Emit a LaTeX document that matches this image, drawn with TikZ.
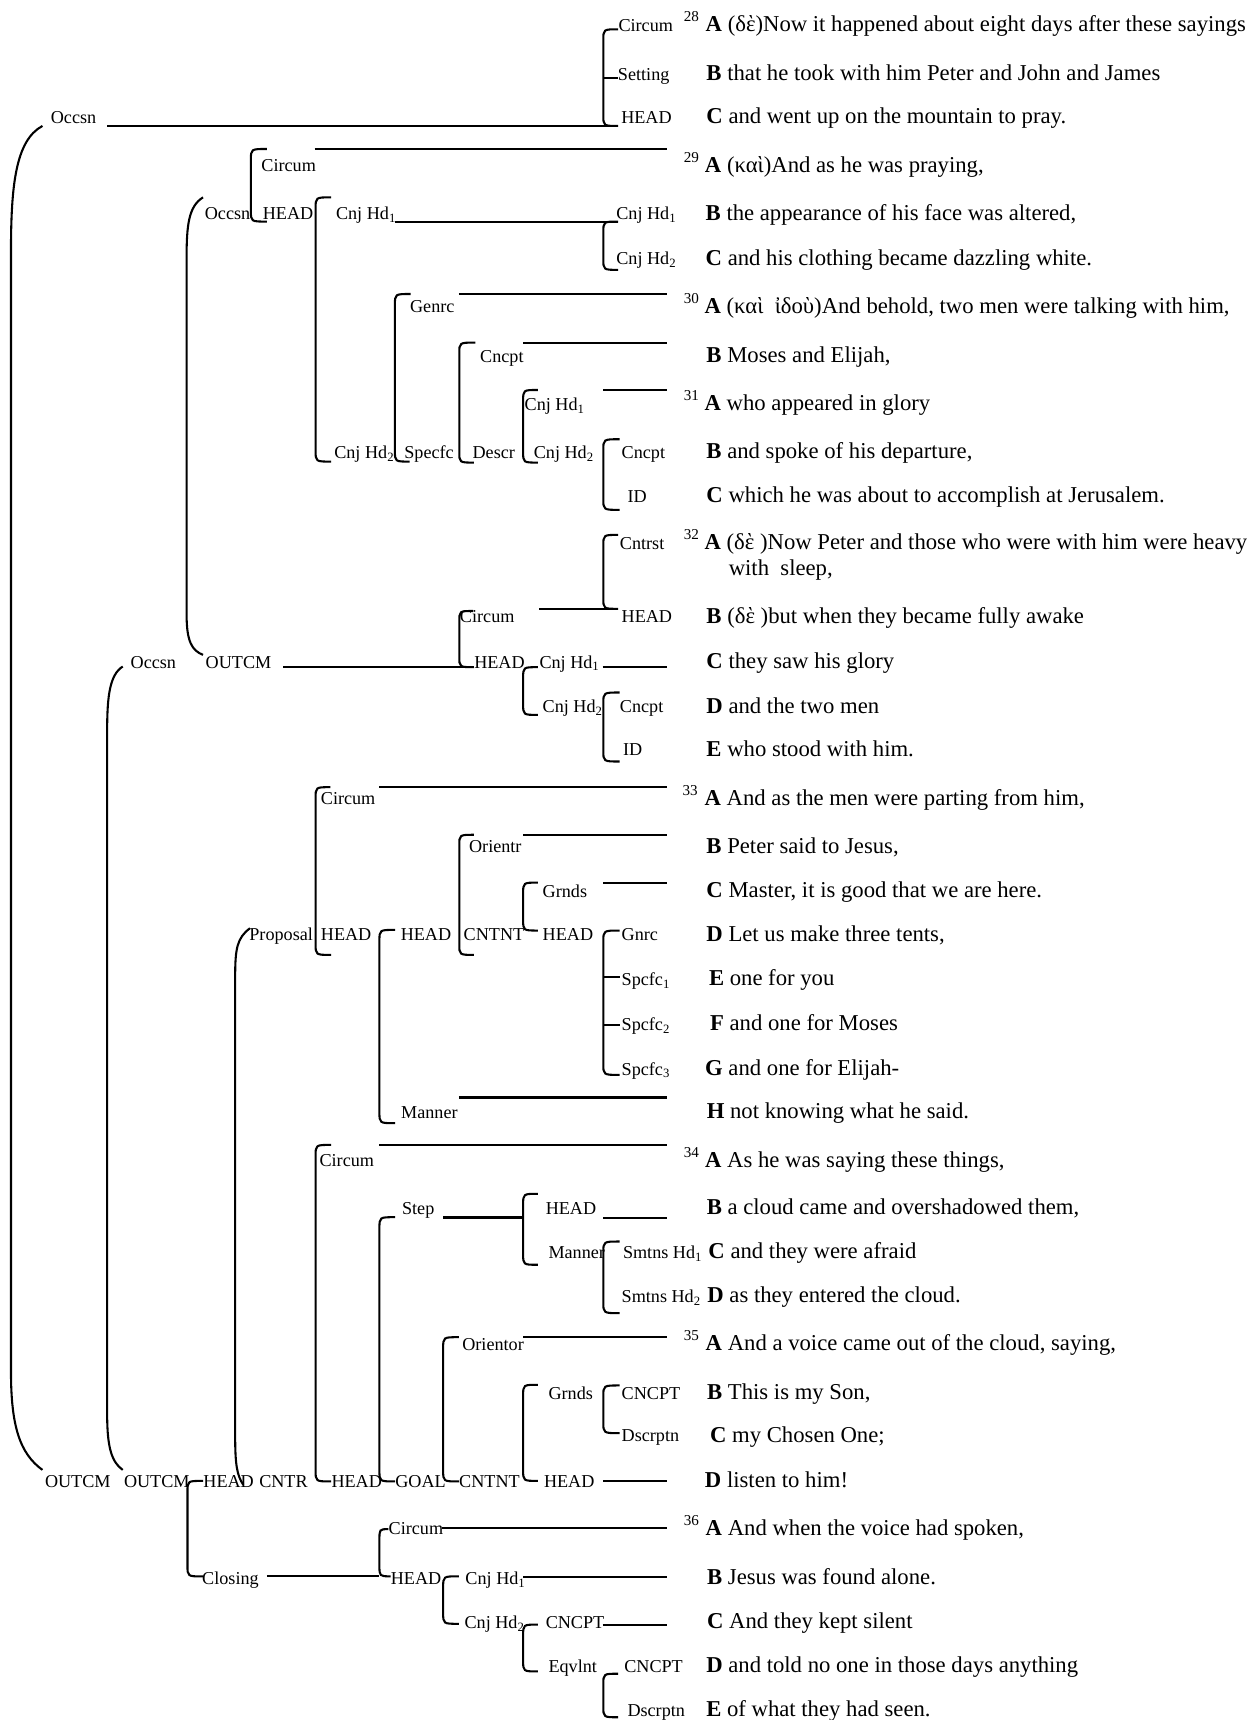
\documentclass[tikz,border=0pt]{standalone}
\usepackage{fontspec}
\setmainfont{Liberation Serif}
\usetikzlibrary{calc}
\newcommand\lblfont{\fontsize{9.6}{11}\selectfont}
\newcommand\txtfont{\fontsize{12}{14}\selectfont}
\newcommand\supfont{\fontsize{8}{9}\selectfont}
\newcommand\sbs[1]{\textsubscript{#1}}
% bracket: #1 spine column coordinate, #2 top end, #3 bottom end
\newcommand\brk[3]{\draw[ln] (#2) .. controls (#2 -| #1) .. ($(#2 -| #1)+(0,10)$) -- ($(#3 -| #1)+(0,-10)$) .. controls (#3 -| #1) .. (#3);}
\begin{document}
\begin{tikzpicture}[x=0.58pt,y=-0.58pt,
  ln/.style={line width=1.1pt},
  lbl/.style={anchor=base west,inner sep=0pt,font=\lblfont},
  txt/.style={anchor=base west,inner sep=0pt,font=\txtfont},
  sup/.style={anchor=base west,inner sep=0pt,font=\supfont}]
\useasboundingbox (0,0) rectangle (1143,1568);
% spine columns
\foreach \n/\v in {171/170.9,229/228.7,288/287.7,346/345.9,360/360,404/404,419/418.7,477/476.9,550/550}{\coordinate (X\n) at (\v,0);}

% ---------------- big brackets
\coordinate (b0t) at (38.7,114.8); \coordinate (b0b) at (38.7,1340);
\draw[ln] (b0t) .. controls (14,128) and (10,170) .. (10,230) -- (10,1250) .. controls (10,1300) and (18,1325) .. (b0b);
\coordinate (b1t) at (111.9,607.6); \coordinate (b1b) at (111.9,1340);
\draw[ln] (b1t) .. controls (100,615) and (97.7,635) .. (97.7,665) -- (97.7,1290) .. controls (97.7,1320) and (102,1333) .. (b1b);
\coordinate (b2t) at (185.1,179.9); \coordinate (b2b) at (185.1,597);
\draw[ln] (b2t) .. controls (172,188) and (170.1,205) .. (170.1,235) -- (170.1,560) .. controls (170.1,585) and (175,593) .. (b2b);
\coordinate (b3t) at (227.9,846.2); \coordinate (b3b) at (221.8,1353.6);
\draw[ln] (b3t) .. controls (216,855) and (214.4,865) .. (214.4,890) -- (214.4,1310) .. controls (214.4,1335) and (216,1345) .. (b3b);

% ---------------- verse 28
\node[lbl] (occ1) at (46,113) {Occsn};
\node[lbl] (l28a) at (563.5,29) {Circum};
\node[lbl] (l28b) at (563,73) {Setting};
\node[lbl] (l28c) at (566,113) {HEAD};
\coordinate (t28) at (563.5,26.7); \coordinate (m28) at (563,71.4); \coordinate (b28) at (563.5,114.8);
\coordinate (o1s) at (97.7,114.8);
\brk{X550}{t28}{b28}
\draw[ln] (m28 -| X550) -- (m28);
\draw[ln] (o1s) -- (b28);

% ---------------- verse 29
\node[lbl] (l29a) at (238,156.5) {Circum};
\node[lbl] (occ2) at (186.4,200.5) {Occsn};
\node[lbl] (l29h) at (239.3,200.5) {HEAD};
\node[lbl] (l29j1) at (306,200.5) {Cnj Hd\sbs{1}};
\node[lbl] (l29r1) at (561.5,200.5) {Cnj Hd\sbs{1}};
\node[lbl] (l29r2) at (561.5,241.5) {Cnj Hd\sbs{2}};
\coordinate (t29) at (243.3,135.8); \coordinate (b29) at (243.3,202);
\brk{X229}{t29}{b29}
\coordinate (a29s) at (286.9,135.8); \coordinate (a29e) at (608.3,135.8);
\draw[ln] (a29s) -- (a29e);
\coordinate (tC1) at (301.9,179.9); \coordinate (bC1) at (301.9,420.8);
\brk{X288}{tC1}{bC1}
\coordinate (j29s) at (360,202); \coordinate (tC2) at (563.5,202); \coordinate (bC2) at (563.5,246);
\draw[ln] (j29s) -- (tC2);
\brk{X550}{tC2}{bC2}

% ---------------- verse 30-31
\node[lbl] (l30g) at (373.5,284.7) {Genrc};
\node[lbl] (l30c) at (437.4,330.5) {Cncpt};
\node[lbl] (l31j1) at (478,374.3) {Cnj Hd\sbs{1}};
\node[lbl] (l29j2) at (304.4,417.7) {Cnj Hd\sbs{2}};
\node[lbl] (l30s) at (368.3,417.7) {Specfc};
\node[lbl] (l30d) at (430.5,417.7) {Descr};
\node[lbl] (l31j2) at (486.3,417.7) {Cnj Hd\sbs{2}};
\node[lbl] (l31c) at (566.4,417.7) {Cncpt};
\node[lbl] (l31i) at (571.7,458) {ID};
\coordinate (tG) at (374.3,268); \coordinate (bG) at (373.5,420.8);
\brk{X360}{tG}{bG}
\coordinate (a30s) at (418.3,268); \coordinate (a30e) at (608.3,268);
\draw[ln] (a30s) -- (a30e);
\coordinate (tCn) at (433.3,312.3); \coordinate (bCn) at (432,421.7);
\brk{X419}{tCn}{bCn}
\coordinate (b30s) at (476.9,312.3); \coordinate (b30e) at (608.3,312.3);
\draw[ln] (b30s) -- (b30e);
\coordinate (tIC) at (490.3,355.5); \coordinate (bIC) at (490.3,421.7);
\brk{X477}{tIC}{bIC}
\coordinate (a31s) at (550,355.5); \coordinate (a31e) at (608.3,355.5);
\draw[ln] (a31s) -- (a31e);
\coordinate (tCI) at (564.8,400.4); \coordinate (bCI) at (564.8,464.8);
\brk{X550}{tCI}{bCI}

% ---------------- verse 32
\node[lbl] (l32ct) at (564.8,501) {Cntrst};
\node[lbl] (l32ci) at (419,567.5) {Circum};
\node[lbl] (l32h) at (566.4,567.5) {HEAD};
\node[lbl] (occ3) at (118.8,609) {Occsn};
\node[lbl] (out3) at (187.2,609) {OUTCM};
\node[lbl] (l32hd) at (432,609) {HEAD};
\node[lbl] (l32j1) at (491.5,609) {Cnj Hd\sbs{1}};
\node[lbl] (l32j2) at (494.4,649.5) {Cnj Hd\sbs{2}};
\node[lbl] (l32c) at (564.8,649.5) {Cncpt};
\node[lbl] (l32i) at (567.6,689) {ID};
\coordinate (tCt) at (563.5,487.6); \coordinate (bCt) at (563.5,555);
\brk{X550}{tCt}{bCt}
\coordinate (c32s) at (491.5,555);
\draw[ln] (c32s) -- (bCt);
\coordinate (tCH) at (431.3,557); \coordinate (bCH) at (432,608.2);
\brk{X419}{tCH}{bCH}
\coordinate (o3s) at (258.4,608.2);
\draw[ln] (o3s) -- (bCH);
\coordinate (tJ) at (490.3,608.2); \coordinate (bJ) at (490.3,651.7);
\brk{X477}{tJ}{bJ}
\coordinate (c32a) at (549.3,608.2); \coordinate (c32b) at (608.3,608.2);
\draw[ln] (c32a) -- (c32b);
\coordinate (tK) at (564.8,631.3); \coordinate (bK) at (564.8,694.2);
\brk{X550}{tK}{bK}

% ---------------- verse 33
\node[lbl] (l33ci) at (292.2,733.7) {Circum};
\node[lbl] (l33o) at (427.3,777) {Orientr};
\node[lbl] (l33g) at (494.4,818) {Grnds};
\node[lbl] (l33p) at (227,857.5) {Proposal};
\node[lbl] (l33h1) at (292.2,857.5) {HEAD};
\node[lbl] (l33h2) at (365,857.5) {HEAD};
\node[lbl] (l33cn) at (422.4,857.5) {CNTNT};
\node[lbl] (l33h3) at (494.4,857.5) {HEAD};
\node[lbl] (l33gn) at (566.4,857.5) {Gnrc};
\node[lbl] (l33s1) at (566.4,898.5) {Spcfc\sbs{1}};
\node[lbl] (l33s2) at (566.4,939.5) {Spcfc\sbs{2}};
\node[lbl] (l33s3) at (566.4,980) {Spcfc\sbs{3}};
\node[lbl] (l33m) at (365.4,1019.4) {Manner};
\coordinate (t33) at (301.1,717.6); \coordinate (b33) at (301.9,870.5);
\brk{X288}{t33}{b33}
\coordinate (a33s) at (345.9,717.6); \coordinate (a33e) at (608.3,717.6);
\draw[ln] (a33s) -- (a33e);
\coordinate (tO) at (432.1,761); \coordinate (bO) at (432.1,870.5);
\brk{X419}{tO}{bO}
\coordinate (b33s) at (476.9,761); \coordinate (b33e) at (608.3,761);
\draw[ln] (b33s) -- (b33e);
\coordinate (tGr) at (490.3,804.6); \coordinate (bGr) at (490.3,848.3);
\brk{X477}{tGr}{bGr}
\coordinate (c33s) at (550,804.6); \coordinate (c33e) at (608.3,804.6);
\draw[ln] (c33s) -- (c33e);
\coordinate (tHM) at (360.1,847.7); \coordinate (bHM) at (360.1,1023.9);
\brk{X346}{tHM}{bHM}
\coordinate (h33s) at (418.3,1000.5); \coordinate (h33e) at (608.3,1000.5);
\draw[ln] (h33s) -- (h33e);
\coordinate (tGn) at (564.8,848.3); \coordinate (bGn) at (564.8,979.9);
\brk{X550}{tGn}{bGn}
\coordinate (k1) at (564.8,890.3); \coordinate (k2) at (564.8,934.3);
\draw[ln] (k1 -| X550) -- (k1);
\draw[ln] (k2 -| X550) -- (k2);

% ---------------- verse 34
\node[lbl] (l34ci) at (291,1063.4) {Circum};
\node[lbl] (l34st) at (366.2,1107.5) {Step};
\node[lbl] (l34h) at (497.2,1107.5) {HEAD};
\node[lbl] (l34m) at (499.7,1147) {Manner};
\node[lbl] (l34s1) at (567.6,1147) {Smtns Hd\sbs{1}};
\node[lbl] (l34s2) at (566.4,1187.4) {Smtns Hd\sbs{2}};
\coordinate (t34) at (301.9,1043.7); \coordinate (b34) at (301.9,1350.5);
\brk{X288}{t34}{b34}
\coordinate (a34s) at (345.9,1043.7); \coordinate (a34e) at (608.3,1043.7);
\draw[ln] (a34s) -- (a34e);
\coordinate (tSt) at (360.1,1109.6); \coordinate (bSt) at (360.1,1350.5);
\brk{X346}{tSt}{bSt}
\coordinate (st1) at (404,1109.9);
\draw[ln] (st1) -- (st1 -| X477);
\coordinate (tH4) at (490.3,1088.3); \coordinate (bH4) at (490.3,1153);
\brk{X477}{tH4}{bH4}
\coordinate (b34s) at (550,1110.5); \coordinate (b34e) at (608.3,1110.5);
\draw[ln] (b34s) -- (b34e);
\coordinate (tSm) at (564.8,1131.8); \coordinate (bSm) at (564.8,1197.1);
\brk{X550}{tSm}{bSm}

% ---------------- verse 35
\node[lbl] (l35o) at (421.1,1231) {Orientor};
\node[lbl] (l35g) at (499.7,1276) {Grnds};
\node[lbl] (l35c) at (566.4,1276) {CNCPT};
\node[lbl] (l35d) at (566.4,1314) {Dscrptn};
\coordinate (tOr) at (418.3,1219); \coordinate (bOr) at (418.3,1350.5);
\brk{X404}{tOr}{bOr}
\coordinate (a35s) at (476.9,1219); \coordinate (a35e) at (608.3,1219);
\draw[ln] (a35s) -- (a35e);
\coordinate (tG5) at (490.3,1262.4); \coordinate (bG5) at (490.3,1350);
\brk{X477}{tG5}{bG5}
\coordinate (tC5) at (564.8,1263); \coordinate (bC5) at (564.8,1306.5);
\brk{X550}{tC5}{bC5}
\coordinate (d35s) at (550,1349.9); \coordinate (d35e) at (608.3,1349.9);
\draw[ln] (d35s) -- (d35e);

% bottom row
\node[lbl] (out1) at (40.7,1355.7) {OUTCM};
\node[lbl] (out2) at (112.7,1355.7) {OUTCM};
\node[lbl] (hd1) at (185.1,1355.7) {HEAD};
\node[lbl] (cntr) at (236,1355.7) {CNTR};
\node[lbl] (hd2) at (301.9,1355.7) {HEAD};
\node[lbl] (goal) at (360.1,1355.7) {GOAL};
\node[lbl] (cntnt) at (418.3,1355.7) {CNTNT};
\node[lbl] (hd3) at (495.6,1355.7) {HEAD};
\coordinate (tHC) at (185.1,1350); \coordinate (bHC) at (185.1,1437.1);
\brk{X171}{tHC}{bHC}

% ---------------- verse 36
\node[lbl] (l36ci) at (354,1399) {Circum};
\node[lbl] (l36cl) at (184,1444.7) {Closing};
\node[lbl] (l36h) at (356,1444.7) {HEAD};
\node[lbl] (l36j1) at (424,1444.7) {Cnj Hd\sbs{1}};
\node[lbl] (l36j2) at (423.2,1485) {Cnj Hd\sbs{2}};
\node[lbl] (l36c) at (497.2,1485) {CNCPT};
\node[lbl] (l36e) at (499.7,1524.6) {Eqvlnt};
\node[lbl] (l36c2) at (568.8,1524.6) {CNCPT};
\node[lbl] (l36d) at (571.7,1564.7) {Dscrptn};
\coordinate (cl1) at (243.3,1437.1);
\draw[ln] (cl1) -- (cl1 -| X346);
\coordinate (tC6) at (354,1394); \coordinate (bC6) at (356,1437);
\brk{X346}{tC6}{bC6}
\coordinate (a36s) at (402.8,1393); \coordinate (a36e) at (608.3,1393);
\draw[ln] (a36s) -- (a36e);
\coordinate (tJ6) at (418.3,1437); \coordinate (bJ6) at (418.3,1480.3);
\brk{X404}{tJ6}{bJ6}
\coordinate (b36s) at (476.9,1437.7); \coordinate (b36e) at (608.3,1437.7);
\draw[ln] (b36s) -- (b36e);
\coordinate (tE6) at (490.3,1481); \coordinate (bE6) at (490.3,1523.7);
\brk{X477}{tE6}{bE6}
\coordinate (c36s) at (549.3,1481); \coordinate (c36e) at (608.3,1481);
\draw[ln] (c36s) -- (c36e);
\coordinate (tD6) at (563.5,1525.8); \coordinate (bD6) at (563.5,1565.5);
\brk{X550}{tD6}{bD6}

% ---------------- right text column
\node[sup] (s28) at (623,20) {28};
\node[txt] (v28a) at (643,29) {\textbf{A} (δὲ)Now it happened about eight days after these sayings};
\node[txt] (v28b) at (643.7,73) {\textbf{B} that he took with him Peter and John and James};
\node[txt] (v28c) at (643.7,113) {\textbf{C} and went up on the mountain to pray.};
\node[sup] (s29) at (623,148) {29};
\node[txt] (v29a) at (642.3,157) {\textbf{A} (καὶ)And as he was praying,};
\node[txt] (v29b) at (643,201) {\textbf{B} the appearance of his face was altered,};
\node[txt] (v29c) at (643,242) {\textbf{C} and his clothing became dazzling white.};
\node[sup] (s30) at (623,277) {30};
\node[txt] (v30a) at (642,285.5) {\textbf{A} (καὶ\ \ ἰδοὺ)And behold, two men were talking with him,};
\node[txt] (v30b) at (643.7,330) {\textbf{B} Moses and Elijah,};
\node[sup] (s31) at (623,365) {31};
\node[txt] (v31a) at (642,374) {\textbf{A} who appeared in glory};
\node[txt] (v31b) at (643.7,418) {\textbf{B} and spoke of his departure,};
\node[txt] (v31c) at (643.7,458) {\textbf{C} which he was about to accomplish at Jerusalem.};
\node[sup] (s32) at (623,492) {32};
\node[txt] (v32a) at (642,501) {\textbf{A} (δὲ )Now Peter and those who were with him were heavy};
\node[txt] (v32a2) at (664,525) {with\ \ sleep,};
\node[txt] (v32b) at (643.7,568) {\textbf{B} (δὲ )but when they became fully awake};
\node[txt] (v32c) at (643.7,609.5) {\textbf{C} they saw his glory};
\node[txt] (v32d) at (643.7,650) {\textbf{D} and the two men};
\node[txt] (v32e) at (643.7,689.5) {\textbf{E} who stood with him.};
\node[sup] (s33) at (622,725) {33};
\node[txt] (v33a) at (642,734) {\textbf{A} And as the men were parting from him,};
\node[txt] (v33b) at (643.7,778) {\textbf{B} Peter said to Jesus,};
\node[txt] (v33c) at (643.7,818) {\textbf{C} Master, it is good that we are here.};
\node[txt] (v33d) at (643.7,858.5) {\textbf{D} Let us make three tents,};
\node[txt] (v33e) at (646,898.5) {\textbf{E} one for you};
\node[txt] (v33f) at (647,939.5) {\textbf{F} and one for Moses};
\node[txt] (v33g) at (642.5,980) {\textbf{G} and one for Elijah-};
\node[txt] (v33h) at (644,1020) {\textbf{H} not knowing what he said.};
\node[sup] (s34) at (623,1055) {34};
\node[txt] (v34a) at (642.5,1064) {\textbf{A} As he was saying these things,};
\node[txt] (v34b) at (644,1107.5) {\textbf{B} a cloud came and overshadowed them,};
\node[txt] (v34c) at (645.5,1147) {\textbf{C} and they were afraid};
\node[txt] (v34d) at (644.5,1187.5) {\textbf{D} as they entered the cloud.};
\node[sup] (s35) at (623,1222) {35};
\node[txt] (v35a) at (643,1231) {\textbf{A} And a voice came out of the cloud, saying,};
\node[txt] (v35b) at (644.3,1276) {\textbf{B} This is my Son,};
\node[txt] (v35c) at (647,1315) {\textbf{C} my Chosen One;};
\node[txt] (v35d) at (642.3,1356) {\textbf{D} listen to him!};
\node[sup] (s36) at (623,1391) {36};
\node[txt] (v36a) at (643,1400) {\textbf{A} And when the voice had spoken,};
\node[txt] (v36b) at (644.3,1444.7) {\textbf{B} Jesus was found alone.};
\node[txt] (v36c) at (644.3,1485) {\textbf{C} And they kept silent};
\node[txt] (v36d) at (643.5,1525) {\textbf{D} and told no one in those days anything};
\node[txt] (v36e) at (643.5,1565) {\textbf{E} of what they had seen.};
\end{tikzpicture}
\end{document}
